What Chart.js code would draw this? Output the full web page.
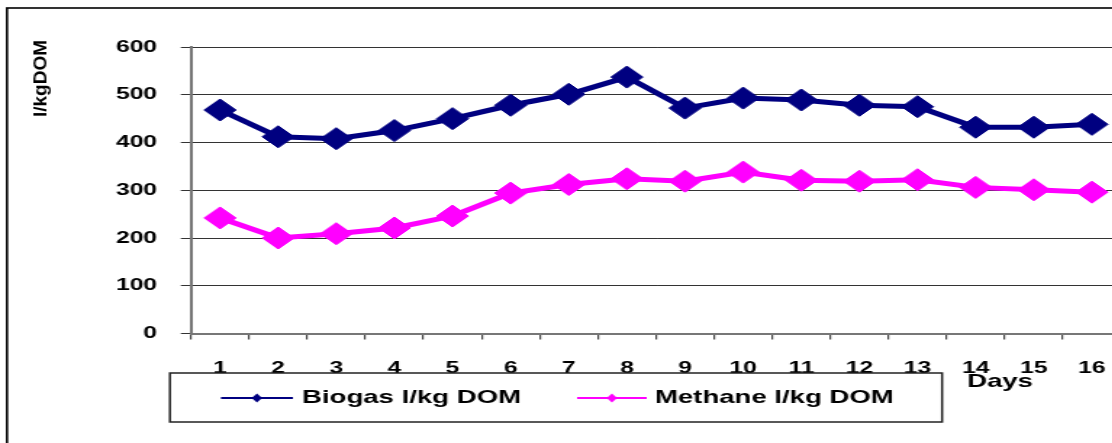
<!DOCTYPE html>
<html lang="en">
<head>
    <meta charset="UTF-8">
    <title>Biogas and Methane yield</title>
    <script src="https://cdn.jsdelivr.net/npm/chart.js"></script>
    <style>
        html, body {
            margin: 0;
            padding: 0;
            background: #fff;
            overflow: hidden;
        }

        /* the reference is stretched sideways, so the chart is drawn narrow and scaled */
        .wrap {
            width: 800px;
            height: 443px;
            transform: scaleX(1.45);
            transform-origin: 0 0;
        }
    </style>
</head>
<body>
    <div class="wrap"><canvas id="yieldChart"></canvas></div>

    <script>
        const days = ['1', '2', '3', '4', '5', '6', '7', '8', '9', '10', '11', '12', '13', '14', '15', '16'];
        const biogas = [468, 412, 408, 425, 450, 478, 501, 537, 472, 493, 489, 478, 475, 432, 432, 438];
        const methane = [242, 200, 209, 221, 246, 294, 312, 324, 319, 338, 321, 319, 322, 306, 301, 296];
        const yMin = 0, yMax = 600, yStep = 100;

        const yTitle = 'l/kgDOM';
        const xTitle = 'Days';
        const seriesNames = ['Biogas l/kg DOM', 'Methane l/kg DOM'];
        const seriesColors = ['#000080', '#ff00ff'];

        const FONT = '"Liberation Sans", Arial, sans-serif';

        // white page + black outer frame
        const framePlugin = {
            id: 'frame',
            beforeDraw(chart) {
                const ctx = chart.ctx;
                ctx.save();
                ctx.fillStyle = '#fff';
                ctx.fillRect(0, 0, chart.width, chart.height);
                ctx.strokeStyle = '#000';
                ctx.lineWidth = 1.6;
                ctx.strokeRect(4.8, 8, chart.width + 50, chart.height + 50);
                ctx.restore();
            }
        };

        function diamond(ctx, x, y, rx, ry) {
            ctx.beginPath();
            ctx.moveTo(x, y - ry);
            ctx.lineTo(x + rx, y);
            ctx.lineTo(x, y + ry);
            ctx.lineTo(x - rx, y);
            ctx.closePath();
            ctx.fill();
        }

        // axis titles and the boxed legend
        const textPlugin = {
            id: 'texts',
            afterDraw(chart) {
                const ctx = chart.ctx;
                ctx.save();
                ctx.fillStyle = '#000';

                // y title, rotated, at the top left
                ctx.font = 'bold 13.5px ' + FONT;
                const w = ctx.measureText(yTitle).width;
                ctx.translate(28.3, 78.5);
                ctx.rotate(-Math.PI / 2);
                ctx.scale(77 / w, 1);
                ctx.textAlign = 'center';
                ctx.textBaseline = 'middle';
                ctx.fillText(yTitle, 0, 0);
                ctx.setTransform(1, 0, 0, 1, 0, 0);
                ctx.scale(chart.currentDevicePixelRatio, chart.currentDevicePixelRatio);

                // x title under the last labels
                ctx.font = 'bold 19px ' + FONT;
                ctx.textAlign = 'center';
                ctx.textBaseline = 'alphabetic';
                ctx.fillText(xTitle, 689.7, 387);

                // legend box
                ctx.strokeStyle = '#222';
                ctx.lineWidth = 1.5;
                ctx.strokeRect(117.2, 373, 532.5, 49);

                const items = [
                    { x0: 152.4, x1: 202, tx: 208.3 },
                    { x0: 398, x1: 446, tx: 451.7 }
                ];
                chart.data.datasets.forEach((ds, i) => {
                    const it = items[i];
                    const y = 398;
                    ctx.strokeStyle = ds.borderColor;
                    ctx.lineWidth = 2.2;
                    ctx.beginPath();
                    ctx.moveTo(it.x0, y);
                    ctx.lineTo(it.x1, y);
                    ctx.stroke();
                    ctx.fillStyle = ds.borderColor;
                    diamond(ctx, (it.x0 + it.x1) / 2, y, 3.6, 4.5);
                    ctx.fillStyle = '#000';
                    ctx.textAlign = 'left';
                    ctx.textBaseline = 'middle';
                    ctx.fillText(ds.label, it.tx, y);
                });
                ctx.restore();
            }
        };

        const ctx = document.getElementById('yieldChart').getContext('2d');
        new Chart(ctx, {
            type: 'line',
            data: {
                labels: days,
                datasets: [
                    {
                        label: seriesNames[0],
                        data: biogas,
                        borderColor: seriesColors[0],
                        backgroundColor: seriesColors[0],
                        borderWidth: 5,
                        pointStyle: 'rectRot',
                        pointRadius: 11,
                        pointBorderWidth: 1,
                        tension: 0
                    },
                    {
                        label: seriesNames[1],
                        data: methane,
                        borderColor: seriesColors[1],
                        backgroundColor: seriesColors[1],
                        borderWidth: 5,
                        pointStyle: 'rectRot',
                        pointRadius: 11,
                        pointBorderWidth: 1,
                        tension: 0
                    }
                ]
            },
            options: {
                responsive: true,
                maintainAspectRatio: false,
                animation: false,
                layout: {
                    padding: { left: 0, right: 26.9, top: 47, bottom: 69.5 }
                },
                plugins: {
                    legend: { display: false },
                    tooltip: { enabled: false }
                },
                scales: {
                    x: {
                        offset: true,
                        grid: {
                            offset: true,
                            drawOnChartArea: false,
                            drawTicks: true,
                            tickLength: 6,
                            color: '#444',
                            lineWidth: 1.2
                        },
                        border: { color: '#777', width: 2 },
                        ticks: {
                            color: '#000',
                            padding: 19,
                            maxRotation: 0,
                            autoSkip: false,
                            font: { family: FONT, size: 17, weight: 'bold' }
                        },
                        afterFit(scale) { scale.height = 40; }
                    },
                    y: {
                        min: yMin,
                        max: yMax,
                        ticks: {
                            stepSize: yStep,
                            color: '#000',
                            padding: 16.4,
                            font: { family: FONT, size: 17, weight: 'bold' }
                        },
                        grid: {
                            color: '#333',
                            lineWidth: 1,
                            tickLength: 7
                        },
                        border: { color: '#777', width: 2 },
                        afterFit(scale) { scale.width = 131.7; }
                    }
                }
            },
            plugins: [framePlugin, textPlugin]
        });
    </script>
</body>
</html>
